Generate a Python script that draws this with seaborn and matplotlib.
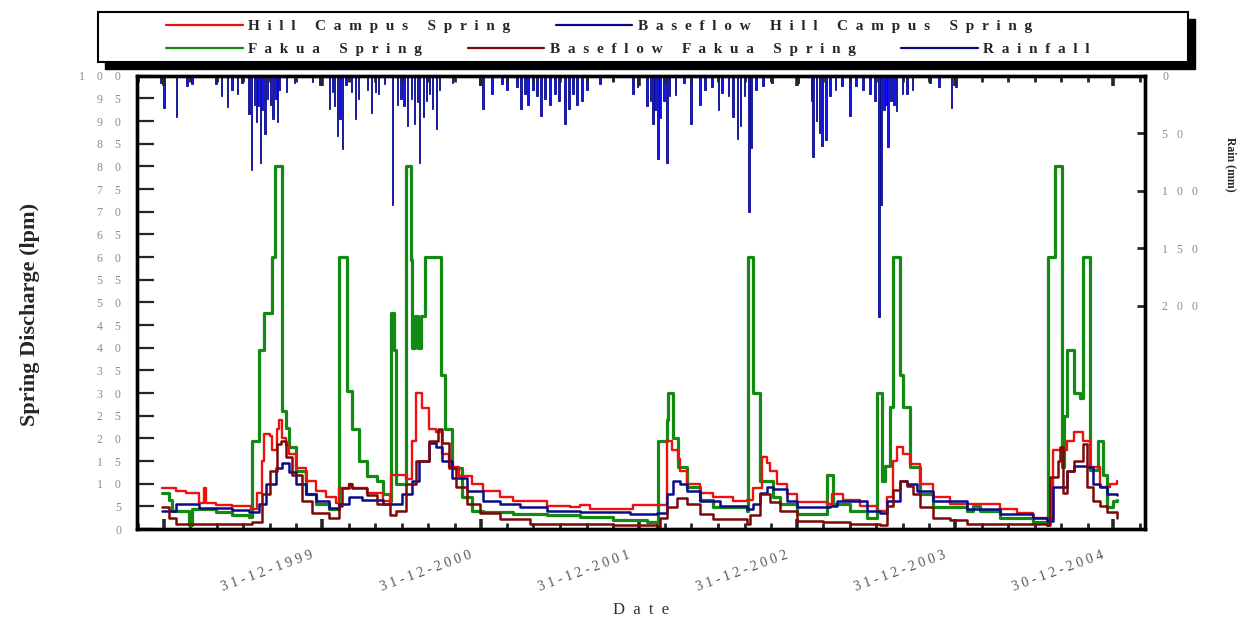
import numpy as np
import pandas as pd
import matplotlib
matplotlib.use("Agg")
import matplotlib.pyplot as plt
import matplotlib.dates as mdates
from matplotlib.lines import Line2D
from matplotlib.patches import Rectangle
from matplotlib.transforms import ScaledTranslation
import seaborn as sns

# ---- data ----
hill_dates = ["1998-12-26", "1999-01-28", "1999-02-20", "1999-03-22", "1999-04-02", "1999-04-07",
              "1999-04-30", "1999-06-06", "1999-07-20", "1999-08-01", "1999-08-14", "1999-08-19",
              "1999-08-31", "1999-09-06", "1999-09-18", "1999-09-23", "1999-09-30", "1999-10-09",
              "1999-10-16", "1999-11-01", "1999-11-24", "1999-12-17", "2000-01-09", "2000-02-01",
              "2000-02-08", "2000-03-02", "2000-03-09", "2000-04-11", "2000-05-18", "2000-06-03",
              "2000-06-07", "2000-07-12", "2000-07-24", "2000-08-04", "2000-08-18", "2000-09-03",
              "2000-09-19", "2000-10-03", "2000-10-19", "2000-11-11", "2000-12-11", "2001-01-05",
              "2001-02-13", "2001-03-15", "2001-06-01", "2001-07-24", "2001-08-17", "2001-09-09",
              "2001-12-10", "2001-12-17", "2002-02-13", "2002-03-06", "2002-03-17", "2002-03-31",
              "2002-04-05", "2002-04-21", "2002-05-21", "2002-06-20", "2002-08-05", "2002-09-06",
              "2002-09-20", "2002-10-11", "2002-10-23", "2002-10-30", "2002-11-15", "2002-12-08",
              "2002-12-31", "2003-03-10", "2003-03-22", "2003-04-16", "2003-05-25", "2003-07-04",
              "2003-07-27", "2003-08-10", "2003-08-19", "2003-09-02", "2003-09-18", "2003-10-11",
              "2003-11-10", "2003-12-19", "2004-04-13", "2004-05-22", "2004-06-28", "2004-07-30",
              "2004-08-13", "2004-09-15", "2004-09-29", "2004-10-22", "2004-11-07", "2004-11-30",
              "2004-12-23", "2005-01-08"]
hill_q = [9.0, 8.5, 8.0, 5.8, 9.0, 5.8, 5.3, 5.0, 4.5, 8.0, 15, 21, 20.5, 17.5, 22, 24, 20, 18.5,
          16.5, 13.5, 10.6, 8.4, 7.0, 5.7, 9.0, 10.0, 9.0, 8.0, 6.2, 5.8, 12.0, 11.0, 19.5, 30.0,
          26.7, 22.0, 21.5, 16.5, 13.7, 11.7, 9.9, 8.4, 7.0, 6.2, 5.0, 4.8, 5.3, 4.5, 4.5, 5.3,
          5.3, 19.5, 17.5, 15.5, 12.8, 10.0, 8.0, 7.0, 6.2, 6.5, 9.0, 16.0, 14.5, 12.8, 10.0, 7.7,
          6.0, 5.5, 7.7, 6.5, 5.0, 4.0, 7.0, 15.0, 18.0, 16.5, 14.3, 10.0, 7.0, 5.5, 4.5, 3.5,
          2.5, 2.3, 17.4, 19.5, 21.5, 19.5, 13.7, 9.3, 10.0, 10.6]

hill_base_dates = ["1998-12-26", "1999-01-28", "1999-03-22", "1999-06-06", "1999-07-15", "1999-08-07",
                   "1999-08-24", "1999-09-16", "1999-09-30", "1999-10-16", "1999-11-01", "1999-11-24",
                   "1999-12-17", "2000-01-16", "2000-02-04", "2000-02-08", "2000-03-02", "2000-04-01",
                   "2000-05-18", "2000-07-03", "2000-07-26", "2000-08-11", "2000-09-03", "2000-09-19",
                   "2000-10-03", "2000-10-26", "2000-11-28", "2001-01-05", "2001-02-13", "2001-03-31",
                   "2001-06-01", "2001-08-17", "2001-12-10", "2002-02-11", "2002-03-06", "2002-03-20",
                   "2002-04-05", "2002-04-21", "2002-05-21", "2002-07-06", "2002-09-06", "2002-09-20",
                   "2002-10-07", "2002-10-23", "2002-11-06", "2002-12-08", "2002-12-31", "2003-03-17",
                   "2003-04-02", "2003-06-11", "2003-07-11", "2003-07-27", "2003-08-26", "2003-09-11",
                   "2003-10-04", "2003-11-10", "2004-01-28", "2004-04-13", "2004-06-28", "2004-07-30",
                   "2004-08-13", "2004-09-15", "2004-09-29", "2004-10-31", "2004-11-14", "2004-11-30",
                   "2004-12-16", "2005-01-08"]
hill_base_q = [4.0, 5.5, 4.7, 4.2, 3.8, 5.5, 10.0, 13.5, 14.6, 12.5, 10.0, 7.7, 6.2, 4.7, 4.5, 5.5,
               7.0, 6.5, 5.5, 7.7, 10.6, 15.0, 19.0, 18.0, 15.0, 11.3, 8.4, 6.2, 5.5, 4.8, 4.0, 3.8,
               3.4, 3.6, 7.7, 10.6, 10.0, 8.5, 6.2, 5.0, 4.5, 5.5, 8.0, 9.3, 8.8, 6.2, 4.8, 5.0, 6.2,
               4.0, 3.5, 6.2, 10.6, 10.0, 8.4, 6.2, 4.4, 3.4, 2.5, 1.8, 9.3, 12.8, 14.0, 13.7, 10.0,
               9.3, 7.7, 7.5]

fakua_dates = ["1998-12-26", "1999-01-10", "1999-01-18", "1999-02-27", "1999-03-06", "1999-04-30",
               "1999-06-06", "1999-07-15", "1999-07-22", "1999-08-07", "1999-08-19", "1999-09-06",
               "1999-09-13", "1999-09-30", "1999-10-09", "1999-10-16", "1999-11-01", "1999-11-24",
               "1999-12-17", "2000-01-16", "2000-02-08", "2000-02-27", "2000-03-09", "2000-03-25",
               "2000-04-11", "2000-05-04", "2000-05-18", "2000-06-03", "2000-06-07", "2000-06-14",
               "2000-06-19", "2000-07-12", "2000-07-22", "2000-07-26", "2000-08-01", "2000-08-07",
               "2000-08-14", "2000-08-23", "2000-10-01", "2000-10-09", "2000-10-26", "2000-11-18",
               "2000-12-11", "2001-01-05", "2001-03-15", "2001-06-01", "2001-08-17", "2001-11-01",
               "2002-01-18", "2002-02-11", "2002-02-13", "2002-03-06", "2002-03-08", "2002-03-20",
               "2002-03-31", "2002-04-21", "2002-05-21", "2002-06-20", "2002-09-06", "2002-09-09",
               "2002-09-20", "2002-10-07", "2002-11-06", "2002-11-22", "2002-12-31", "2003-03-10",
               "2003-03-24", "2003-05-02", "2003-06-11", "2003-07-04", "2003-07-15", "2003-07-22",
               "2003-08-03", "2003-08-10", "2003-08-26", "2003-09-02", "2003-09-18", "2003-10-11",
               "2003-11-10", "2004-01-28", "2004-02-11", "2004-02-27", "2004-04-13", "2004-06-28",
               "2004-07-30", "2004-08-02", "2004-08-18", "2004-09-03", "2004-09-08", "2004-09-15",
               "2004-09-29", "2004-10-15", "2004-10-22", "2004-11-07", "2004-11-25", "2004-12-07",
               "2004-12-16", "2004-12-30", "2005-01-08"]
fakua_q = [8.0, 6.5, 4.0, 1.0, 4.5, 3.8, 3.0, 2.6, 19.5, 39.5, 47.7, 60.0, 80.0, 26.0, 22.3, 18.0,
           12.8, 7.7, 5.5, 4.5, 60.0, 30.5, 22.0, 15.0, 11.7, 10.5, 7.7, 6.2, 47.7, 39.5, 10.0,
           80.0, 59.3, 40.0, 47.0, 40.0, 47.0, 60.0, 34.0, 22.0, 13.5, 7.0, 4.0, 3.7, 3.4, 3.0,
           2.6, 2.0, 1.5, 0.5, 19.5, 24.0, 30.0, 20.0, 13.7, 9.3, 6.5, 4.8, 4.0, 60.0, 30.0, 10.6,
           7.0, 5.5, 3.4, 12.0, 5.5, 4.0, 2.5, 30.0, 10.6, 14.0, 27.0, 60.0, 34.0, 27.0, 13.7, 7.7,
           4.8, 4.0, 5.0, 4.0, 2.5, 1.5, 1.0, 60.0, 80.0, 13.7, 25.0, 39.5, 30.0, 29.0, 60.0, 13.0,
           19.5, 12.0, 4.8, 6.2, 6.5]

fakua_base_dates = ["1998-12-26", "1999-01-10", "1999-01-28", "1999-07-22", "1999-08-14", "1999-08-31",
                    "1999-09-18", "1999-09-27", "1999-10-09", "1999-10-23", "1999-11-15", "1999-12-08",
                    "2000-01-16", "2000-02-08", "2000-02-15", "2000-03-02", "2000-03-09", "2000-04-11",
                    "2000-05-04", "2000-06-03", "2000-06-19", "2000-07-12", "2000-08-04", "2000-09-03",
                    "2000-09-22", "2000-10-03", "2000-10-19", "2000-11-04", "2000-11-28", "2000-12-28",
                    "2001-02-13", "2001-04-23", "2001-11-01", "2002-02-11", "2002-02-18", "2002-03-06",
                    "2002-03-29", "2002-04-21", "2002-05-21", "2002-06-20", "2002-09-06", "2002-09-13",
                    "2002-10-07", "2002-10-30", "2002-11-22", "2002-12-31", "2003-03-01", "2003-05-02",
                    "2003-07-11", "2003-07-27", "2003-08-10", "2003-08-26", "2003-09-11", "2003-09-25",
                    "2003-10-11", "2003-11-10", "2003-12-19", "2004-01-28", "2004-07-30", "2004-08-06",
                    "2004-08-23", "2004-08-29", "2004-09-05", "2004-09-15", "2004-09-29", "2004-10-22",
                    "2004-10-31", "2004-11-14", "2004-11-30", "2004-12-16", "2005-01-08"]
fakua_base_q = [4.8, 2.5, 1.2, 1.5, 7.7, 12.8, 18.7, 19.5, 16.0, 12.0, 6.2, 3.6, 2.5, 5.0, 9.0,
                10.0, 9.0, 7.5, 5.5, 3.0, 4.0, 10.0, 15.0, 19.5, 22.0, 19.0, 13.5, 9.3, 5.5, 3.5,
                2.3, 1.1, 0.8, 0.5, 2.5, 4.8, 6.8, 5.5, 3.4, 2.3, 1.1, 3.0, 7.7, 6.0, 4.0, 1.8, 1.5,
                1.1, 0.8, 5.0, 8.6, 10.6, 9.5, 7.7, 4.8, 2.5, 2.0, 1.1, 0.8, 11.5, 15.0, 18.0, 8.0,
                12.8, 15.0, 18.7, 9.3, 6.2, 5.0, 3.8, 2.5]

rain_dates = ["1998-12-24", "1998-12-31", "1999-01-28", "1999-02-22", "1999-03-05", "1999-04-30",
              "1999-05-12", "1999-05-26", "1999-06-06", "1999-06-18", "1999-06-29", "1999-07-15",
              "1999-07-20", "1999-07-27", "1999-08-01", "1999-08-05", "1999-08-10", "1999-08-14",
              "1999-08-21", "1999-08-26", "1999-09-02", "1999-09-08", "1999-09-15", "1999-09-18",
              "1999-09-22", "1999-10-09", "1999-10-28", "1999-12-08", "1999-12-25", "2000-01-16",
              "2000-01-23", "2000-01-28", "2000-02-04", "2000-02-10", "2000-02-15", "2000-02-24",
              "2000-03-07", "2000-03-16", "2000-03-23", "2000-04-13", "2000-04-23", "2000-05-02",
              "2000-05-09", "2000-05-22", "2000-06-10", "2000-06-21", "2000-06-30", "2000-07-07",
              "2000-07-14", "2000-07-24", "2000-07-31", "2000-08-07", "2000-08-11", "2000-08-20",
              "2000-08-27", "2000-09-03", "2000-09-10", "2000-09-19", "2000-09-26", "2000-10-26",
              "2000-12-28", "2001-01-05", "2001-01-26", "2001-02-18", "2001-03-01", "2001-03-24",
              "2001-04-02", "2001-04-12", "2001-04-19", "2001-04-30", "2001-05-10", "2001-05-19",
              "2001-05-28", "2001-06-08", "2001-06-20", "2001-06-29", "2001-07-13", "2001-07-22",
              "2001-08-01", "2001-08-10", "2001-08-21", "2001-09-02", "2001-10-02", "2001-11-01",
              "2001-12-17", "2001-12-27", "2002-01-18", "2002-01-27", "2002-02-01", "2002-02-06",
              "2002-02-13", "2002-02-18", "2002-02-27", "2002-03-06", "2002-03-11", "2002-03-25",
              "2002-04-14", "2002-04-30", "2002-05-21", "2002-06-01", "2002-06-18", "2002-07-02",
              "2002-07-11", "2002-07-25", "2002-08-05", "2002-08-15", "2002-08-22", "2002-08-31",
              "2002-09-11", "2002-09-16", "2002-09-27", "2002-10-13", "2002-11-03", "2003-01-02",
              "2003-02-02", "2003-02-05", "2003-02-14", "2003-02-21", "2003-02-26", "2003-03-08",
              "2003-03-17", "2003-03-29", "2003-04-14", "2003-05-02", "2003-05-16", "2003-06-01",
              "2003-06-17", "2003-06-29", "2003-07-08", "2003-07-13", "2003-07-20", "2003-07-24",
              "2003-07-29", "2003-08-05", "2003-08-12", "2003-08-17", "2003-08-31", "2003-09-11",
              "2003-09-23", "2003-11-03", "2003-11-24", "2003-12-22", "2004-01-02"]
rain_mm = [6, 28, 36, 9, 7, 7, 18, 27, 12, 16, 6, 33, 82, 25, 40, 26, 76, 30, 51, 20, 25, 38, 20,
           40, 12, 14, 6, 5, 8, 29, 14, 26, 52, 38, 64, 8, 14, 38, 20, 12, 32, 14, 16, 7, 112, 25,
           20, 26, 44, 20, 42, 23, 76, 36, 22, 16, 29, 46, 12, 6, 8, 29, 16, 7, 12, 10, 29, 16, 25,
           12, 18, 35, 20, 25, 16, 22, 42, 29, 16, 25, 22, 12, 7, 4, 16, 10, 26, 22, 42, 30, 72,
           37, 22, 76, 18, 17, 6, 42, 25, 12, 10, 30, 15, 18, 36, 55, 44, 18, 118, 63, 12, 9, 6,
           6, 22, 71, 39, 50, 61, 56, 18, 12, 9, 35, 9, 12, 16, 22, 210, 112, 30, 25, 62, 22, 25,
           31, 16, 16, 12, 6, 10, 28, 10]

xtick_labels = ["31-12-1999", "31-12-2000", "31-12-2001", "31-12-2002", "31-12-2003", "30-12-2004"]
q_ticks = list(range(0, 101, 5))
rain_ticks = [0, 50, 100, 150, 200]


def spread(s, gap=" "):
    # the original software drew its text letter-spaced
    return gap.join(s)


sns.set_theme(style="white")
plt.rcParams["font.family"] = ["Liberation Serif", "DejaVu Serif"]

fig = plt.figure(figsize=(12.41, 6.21), dpi=100)
ax = fig.add_axes([0.110, 0.148, 0.813, 0.730])
ax2 = ax.twinx()
ax.set_zorder(ax2.get_zorder() + 1)
ax.patch.set_visible(False)

# rainfall hanging from the top
ax2.bar(pd.to_datetime(rain_dates), rain_mm, width=3.5, color="#1414f0",
        edgecolor="#0a0a90", linewidth=0.6)
ax2.set_ylim(394, 0)
ax2.set_yticks(rain_ticks)
ax2.set_yticklabels([spread(str(v), "   ") for v in rain_ticks])
ax2.tick_params(axis="y", direction="in", length=6, width=2, pad=12,
                labelsize=8.5, labelcolor="#8a8a8a", right=True)
ax2.grid(False)

series = [
    ("Fakua Spring", fakua_dates, fakua_q, "#138a13", 2.3),
    ("Hill Campus Spring", hill_dates, hill_q, "#f01010", 1.7),
    ("Baseflow Hill Campus Spring", hill_base_dates, hill_base_q, "#0a0a8a", 1.8),
    ("Baseflow Fakua Spring", fakua_base_dates, fakua_base_q, "#7c0808", 1.8),
]
for name, d, q, col, lw in series:
    df = pd.DataFrame({"date": pd.to_datetime(d), "q": q})
    sns.lineplot(data=df, x="date", y="q", ax=ax, color=col, linewidth=lw,
                 drawstyle="steps-post", estimator=None, legend=False)

ax.set_ylim(0, 100)
ax.set_xlim(pd.Timestamp("1998-10-28"), pd.Timestamp("2005-03-14"))
ax.set_yticks(q_ticks)
ax.set_yticklabels([spread(str(v), "    ") for v in q_ticks])
ax.tick_params(axis="y", which="major", direction="in", length=12, width=1.6, pad=11,
               labelsize=8.5, labelcolor="#8a8a8a", left=True)

major = mdates.date2num(pd.to_datetime(["31-12-1998"] + xtick_labels, format="%d-%m-%Y"))
ax.set_xticks(major)
ax.set_xticklabels([""] + [spread(t) for t in xtick_labels], rotation=20, ha="right", va="top",
                   rotation_mode="anchor")
ax.xaxis.set_minor_locator(mdates.MonthLocator(bymonth=(3, 5, 7, 9, 11)))
ax.tick_params(axis="x", which="major", direction="in", length=7, width=2.6, top=True,
               bottom=True, pad=14, labelsize=10, labelcolor="#555555")
ax.tick_params(axis="x", which="minor", direction="in", length=4, width=2, top=True, bottom=True)
for lab in ax.get_xticklabels():
    lab.set_transform(lab.get_transform() + ScaledTranslation(-0.12, 0, fig.dpi_scale_trans))

for a in (ax, ax2):
    for sp in a.spines.values():
        sp.set_linewidth(2.4)
        sp.set_color("black")

ax.set_xlabel(spread("Date", "  "), fontsize=12, labelpad=6, color="#333333")
ax.set_ylabel("")
ax2.set_ylabel("")
fig.text(0.024, 0.493, "Spring Discharge (lpm)", rotation=90, va="center", ha="center",
         fontsize=16, fontweight="bold")
fig.text(0.992, 0.735, "Rain (mm)", rotation=-90, va="center", ha="center",
         fontsize=8.5, fontweight="bold")

# legend box with drop shadow
fig.patches.append(Rectangle((98 / 1241 + 0.006, 1 - 62 / 621 - 0.012), 1090 / 1241, 50 / 621,
                             transform=fig.transFigure, facecolor="black", edgecolor="black",
                             zorder=1))
fig.patches.append(Rectangle((98 / 1241, 1 - 62 / 621), 1090 / 1241, 50 / 621,
                             transform=fig.transFigure, facecolor="white", edgecolor="black",
                             linewidth=1.5, zorder=2))

h = {name: Line2D([], [], color=col, linewidth=1.6) for name, _, _, col, _ in series}
h["Rainfall"] = Line2D([], [], color="#0a0a8a", linewidth=1.6)
row1 = ["Hill Campus Spring", "Baseflow Hill Campus Spring"]
row2 = ["Fakua Spring", "Baseflow Fakua Spring", "Rainfall"]
leg_kw = dict(frameon=False, loc="center left", handlelength=5.0, handletextpad=0.35,
              columnspacing=3.0, prop={"family": "Liberation Serif", "weight": "bold", "size": 11})
leg1 = fig.legend([h[n] for n in row1], [spread(n, "  ") for n in row1], ncol=2,
                  bbox_to_anchor=(0.123, 1 - 26 / 621), **leg_kw)
leg2 = fig.legend([h[n] for n in row2], [spread(n, "  ") for n in row2], ncol=3,
                  bbox_to_anchor=(0.123, 1 - 49 / 621), **leg_kw)
leg1.set_zorder(5)
leg2.set_zorder(5)

fig.savefig("out.png", dpi=100)
